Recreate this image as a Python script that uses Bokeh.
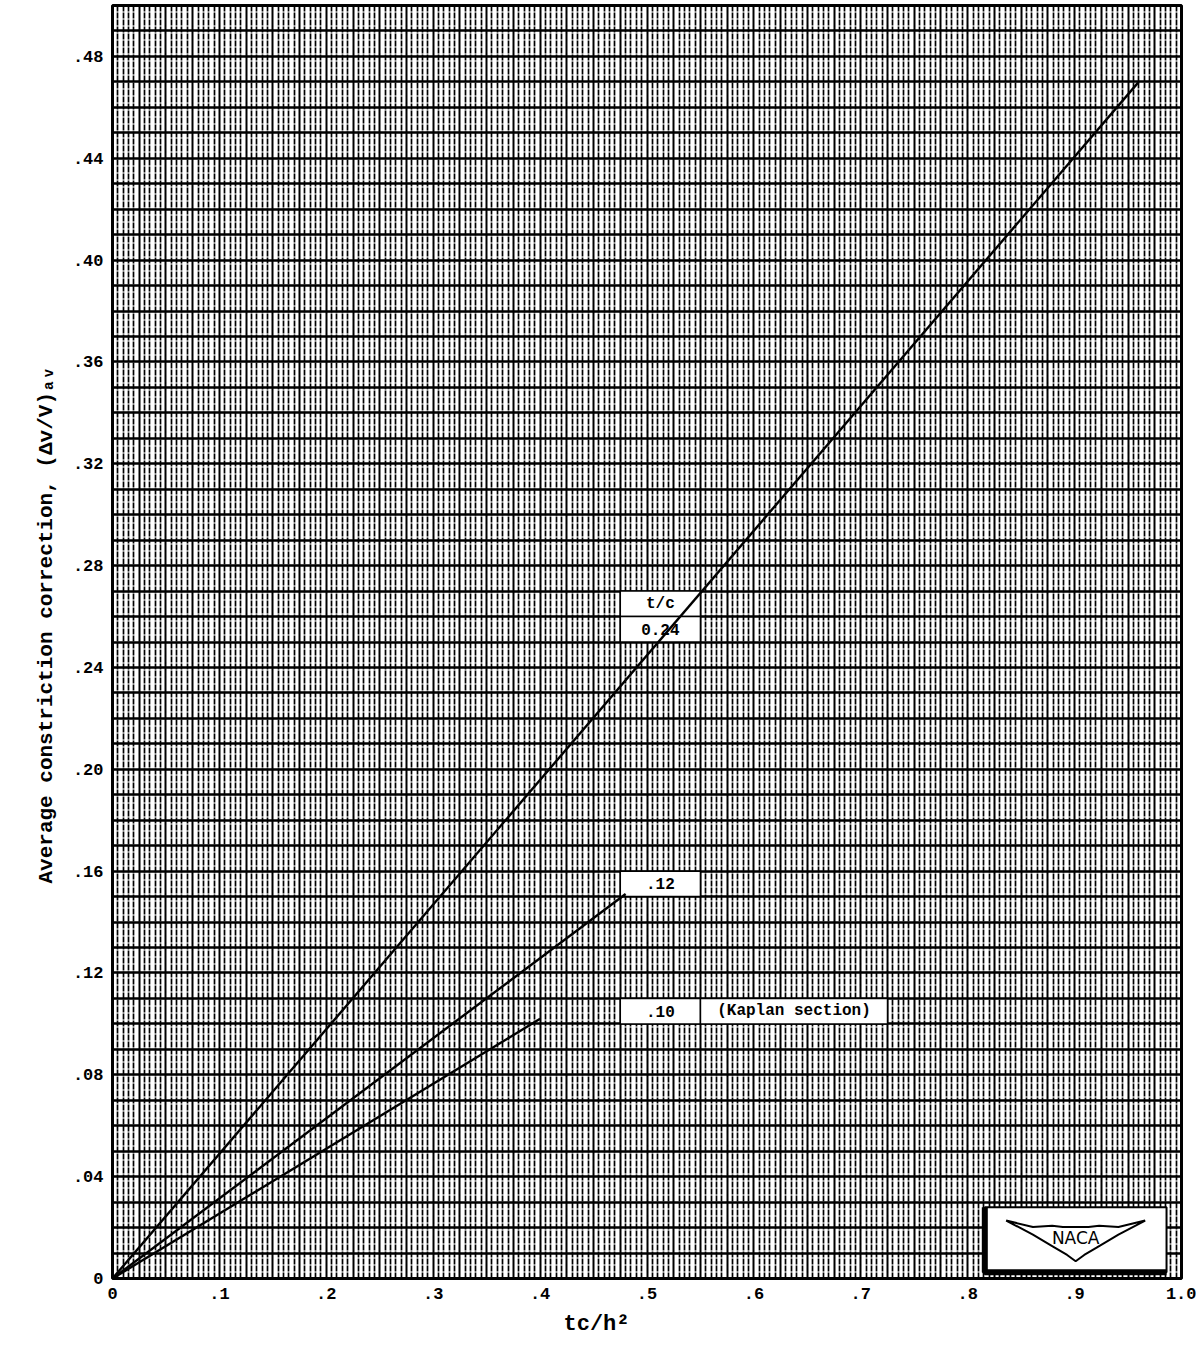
import numpy as np
from bokeh.plotting import figure
from bokeh.models import FixedTicker, Grid, Label, Range1d, Title
from bokeh.embed import file_html
from bokeh.resources import INLINE

# ---------------- data ----------------
x_ticks = [0.0, 0.1, 0.2, 0.3, 0.4, 0.5, 0.6, 0.7, 0.8, 0.9, 1.0]
x_tick_labels = ["0", ".1", ".2", ".3", ".4", ".5", ".6", ".7", ".8", ".9", "1.0"]
y_ticks = [0.0, 0.04, 0.08, 0.12, 0.16, 0.20, 0.24, 0.28, 0.32, 0.36, 0.40, 0.44, 0.48]
y_tick_labels = ["0", ".04", ".08", ".12", ".16", ".20", ".24", ".28", ".32", ".36", ".40", ".44", ".48"]

series_names = ["0.24", ".12", ".10"]
tc_h2 = [[0.0, 0.96], [0.0, 0.48], [0.0, 0.40]]
dv_v_av = [[0.0, 0.47], [0.0, 0.151], [0.0, 0.102]]

x_title = "tc/h\u00b2"
y_title = "Average constriction correction, (\u0394v/V)\u2090\u1d65"

# ---------------- layout / style ----------------
W, H = 1196, 1346
FONT = "Liberation Mono"
FRAME_L, FRAME_B = 112, 68

p = figure(width=W, height=H, output_backend="svg", toolbar_location=None,
           x_range=Range1d(0, 1.0), y_range=Range1d(0, 0.5),
           min_border_left=FRAME_L, min_border_right=15, min_border_top=5,
           min_border_bottom=FRAME_B)
p.background_fill_color = "white"
p.border_fill_color = "white"
p.outline_line_color = "black"
p.outline_line_width = 3
p.grid.visible = False

# graph-paper grid
fine_x = [v for v in np.round(np.arange(0, 1.0001, 0.005), 4) if round(v / 0.025, 4) % 1 != 0]
heavy_x = list(np.round(np.arange(0, 1.0001, 0.025), 4))
heavy_y = list(np.round(np.arange(0, 0.5001, 0.01), 4))

g_fine = Grid(dimension=0, ticker=FixedTicker(ticks=fine_x),
              grid_line_color="black", grid_line_width=1.7, grid_line_dash="6 1")
g_hx = Grid(dimension=0, ticker=FixedTicker(ticks=heavy_x),
            grid_line_color="black", grid_line_width=2.0)
g_hy = Grid(dimension=1, ticker=FixedTicker(ticks=heavy_y),
            grid_line_color="black", grid_line_width=2.6)
for g in (g_fine, g_hx, g_hy):
    p.add_layout(g)

# axes
for ax, ticks, labels in ((p.xaxis[0], x_ticks, x_tick_labels), (p.yaxis[0], y_ticks, y_tick_labels)):
    ax.ticker = FixedTicker(ticks=ticks)
    ax.major_label_overrides = {t: l for t, l in zip(ticks, labels)}
    ax.axis_line_color = None
    ax.major_tick_line_color = None
    ax.minor_tick_line_color = None
    ax.major_label_text_font = FONT
    ax.major_label_text_font_style = "bold"
    ax.major_label_text_font_size = "17px"
    ax.major_label_text_color = "black"
p.xaxis.major_label_standoff = 3
p.yaxis.major_label_standoff = 3

# axis titles as side titles (offset from the frame's start edge)
p.add_layout(Title(text=y_title, align="left", offset=395, standoff=24,
                   text_font=FONT, text_font_style="bold", text_font_size="21px",
                   text_color="black"), "left")
p.add_layout(Title(text=x_title, align="left", offset=451, standoff=16,
                   text_font=FONT, text_font_style="bold", text_font_size="22px",
                   text_color="black"), "below")

# label boxes (white cells on the graph paper)
box_left = [0.475, 0.475, 0.475, 0.475, 0.55]
box_right = [0.55, 0.55, 0.55, 0.55, 0.725]
box_bottom = [0.26, 0.25, 0.15, 0.10, 0.10]
box_top = [0.27, 0.26, 0.16, 0.11, 0.11]
box_text = ["t/c", series_names[0], series_names[1], series_names[2], "(Kaplan section)"]
p.quad(left=box_left, right=box_right, bottom=box_bottom, top=box_top,
       fill_color="white", line_color="black", line_width=1.5)

# curves
for xs, ys in zip(tc_h2, dv_v_av):
    p.line(xs, ys, line_color="black", line_width=2.4)

for l, r, b, t, txt in zip(box_left, box_right, box_bottom, box_top, box_text):
    p.add_layout(Label(x=(l + r) / 2, y=(b + t) / 2, text=txt, text_align="center",
                       text_baseline="middle", text_font=FONT, text_font_style="bold",
                       text_font_size="16px", text_color="black"))

# NACA logo
logo_l, logo_r, logo_b, logo_t = 0.816, 0.986, 0.0025, 0.028
p.quad(left=[logo_l], right=[logo_r], bottom=[logo_b], top=[logo_t],
       fill_color="white", line_color="black", line_width=2)
p.line([logo_l, logo_l, logo_r], [logo_t, logo_b, logo_b], line_color="black", line_width=6)
cx, cy = (logo_l + logo_r) / 2, (logo_b + logo_t) / 2
wing_dx = [-0.065, -0.04, -0.022, -0.012, 0.012, 0.022, 0.04, 0.065,
           0.04, 0.02, 0.008, 0.0, -0.008, -0.02, -0.04]
wing_dy = [0.0075, 0.005, 0.0055, 0.005, 0.005, 0.0055, 0.005, 0.0075,
           0.002, -0.003, -0.006, -0.0085, -0.006, -0.003, 0.002]
p.patch([cx + d for d in wing_dx], [cy + d for d in wing_dy],
        fill_color="white", line_color="black", line_width=2)
p.add_layout(Label(x=cx, y=cy + 0.0005, text="NACA", text_align="center", text_baseline="middle",
                   text_font="DejaVu Sans", text_font_size="17px", text_color="black"))

open("out.html", "w").write(file_html(p, INLINE))
